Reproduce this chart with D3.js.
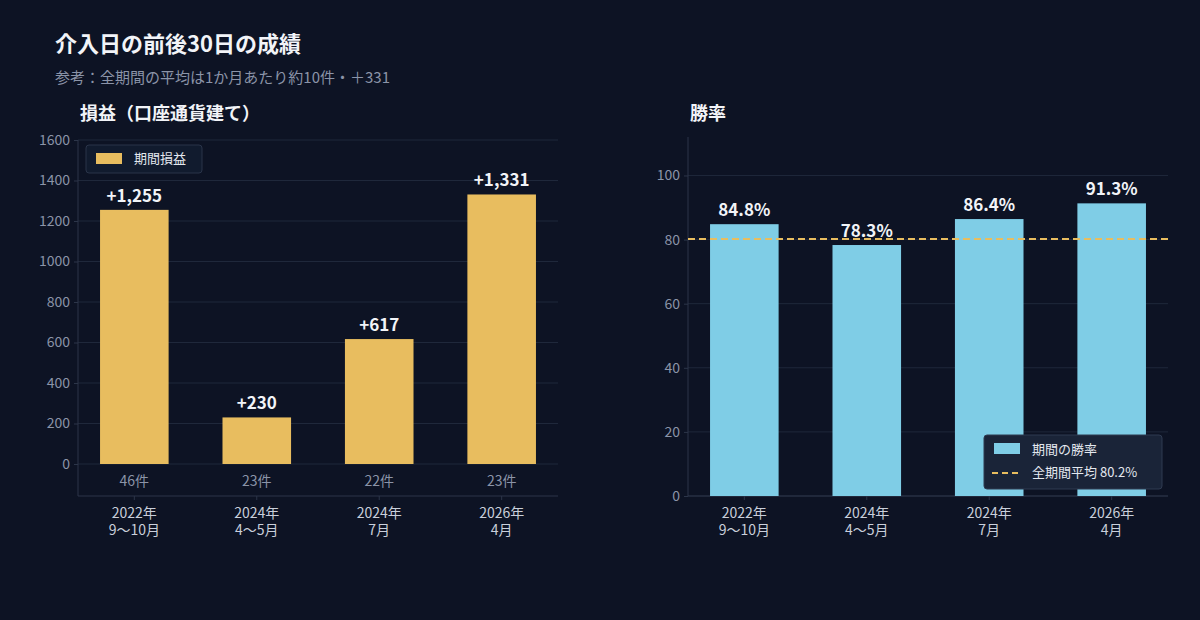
<!DOCTYPE html>
<html><head><meta charset="utf-8">
<script src="https://cdn.jsdelivr.net/npm/d3@7"></script>
<style>
body{margin:0;background:#0d1324;font-family:"Noto Sans CJK JP","Noto Sans",sans-serif;}
</style></head>
<body><svg id="c" width="1200" height="620"></svg>
<script>
const categories = [['2022年','9〜10月'],['2024年','4〜5月'],['2024年','7月'],['2026年','4月']];
const pnl = [1255, 230, 617, 1331];
const pnlLabels = ['+1,255','+230','+617','+1,331'];
const counts = ['46件','23件','22件','23件'];
const winRate = [84.8, 78.3, 86.4, 91.3];
const avgWin = 80.2;
const pnlTicks = [0,200,400,600,800,1000,1200,1400,1600];
const winTicks = [0,20,40,60,80,100];

const BG = '#0d1324', GRID = '#1f283b', AXIS = '#2c3549', TICK = '#8b94a8', GOLD = '#e8bd5f', BLUE = '#7fcde6';
const svg = d3.select('#c');
svg.append('rect').attr('width',1200).attr('height',620).attr('fill',BG);

svg.append('text').attr('x',55).attr('y',52).attr('fill','#f2f4f8').attr('font-size',22).attr('font-weight',700).text('介入日の前後30日の成績');
svg.append('text').attr('x',55).attr('y',83).attr('fill',TICK).attr('font-size',15).text('参考：全期間の平均は1か月あたり約10件・＋331');

function panel(x0, x1, y0, y1, domain, ticks, title) {
  const g = svg.append('g');
  const x = d3.scaleBand().domain(d3.range(4)).range([x0, x1]).paddingInner(0.44).paddingOuter(0.18);
  const y = d3.scaleLinear().domain(domain).range([y1, y0]);
  g.append('text').attr('x', x0 + 2).attr('y', 120).attr('fill','#f2f4f8').attr('font-size',18).attr('font-weight',700).text(title);
  g.selectAll('.grid').data(ticks).join('line')
    .attr('x1',x0).attr('x2',x1).attr('y1',d=>y(d)).attr('y2',d=>y(d)).attr('stroke',GRID);
  g.append('line').attr('x1',x0).attr('x2',x0).attr('y1',y0).attr('y2',y1).attr('stroke',AXIS);
  g.append('line').attr('x1',x0).attr('x2',x1).attr('y1',y1).attr('y2',y1).attr('stroke',AXIS);
  const ya = g.append('g').attr('transform',`translate(${x0},0)`)
    .call(d3.axisLeft(y).tickValues(ticks).tickFormat(d3.format('d')).tickSize(4).tickPadding(4));
  ya.select('.domain').remove();
  ya.selectAll('line').attr('stroke',AXIS);
  ya.selectAll('text').attr('fill',TICK).attr('font-size',14).attr('font-family','"Noto Sans CJK JP",sans-serif');
  const xa = g.append('g').attr('transform',`translate(0,${y1})`).call(d3.axisBottom(x).tickSize(4).tickFormat(''));
  xa.select('.domain').remove();
  xa.selectAll('line').attr('stroke',AXIS);
  categories.forEach((c,i)=>{
    const cx = x(i)+x.bandwidth()/2;
    g.append('text').attr('x',cx).attr('y',y1+22).attr('text-anchor','middle').attr('fill','#c9cfdb').attr('font-size',14).text(c[0]);
    g.append('text').attr('x',cx).attr('y',y1+39).attr('text-anchor','middle').attr('fill','#c9cfdb').attr('font-size',14).text(c[1]);
  });
  return {g,x,y};
}

// left panel
const L = panel(78, 558, 140, 496, [-158, 1600], pnlTicks, '損益（口座通貨建て）');
L.g.selectAll('.bar').data(pnl).join('rect')
  .attr('x',(d,i)=>L.x(i)).attr('width',L.x.bandwidth())
  .attr('y',d=>L.y(d)).attr('height',d=>L.y(0)-L.y(d)).attr('fill',GOLD);
L.g.selectAll('.lab').data(pnl).join('text')
  .attr('x',(d,i)=>L.x(i)+L.x.bandwidth()/2).attr('y',d=>L.y(d)-8).attr('text-anchor','middle')
  .attr('fill','#f2f4f8').attr('font-size',17).attr('font-weight',700).text((d,i)=>pnlLabels[i]);
L.g.selectAll('.cnt').data(counts).join('text')
  .attr('x',(d,i)=>L.x(i)+L.x.bandwidth()/2).attr('y',L.y(-85)+5).attr('text-anchor','middle')
  .attr('fill',TICK).attr('font-size',14).text(d=>d);
const lg1 = L.g.append('g').attr('transform','translate(86,145)');
lg1.append('rect').attr('width',116).attr('height',28).attr('rx',3).attr('fill','#111b2e').attr('stroke','#2a3449');
lg1.append('rect').attr('x',10).attr('y',8).attr('width',26).attr('height',11).attr('fill',GOLD);
lg1.append('text').attr('x',48).attr('y',18).attr('fill','#e4e8ef').attr('font-size',13).text('期間損益');

// right panel
const R = panel(688, 1168, 137, 496, [0, 112], winTicks, '勝率');
R.g.selectAll('.bar').data(winRate).join('rect')
  .attr('x',(d,i)=>R.x(i)).attr('width',R.x.bandwidth())
  .attr('y',d=>R.y(d)).attr('height',d=>R.y(0)-R.y(d)).attr('fill',BLUE);
R.g.append('line').attr('x1',688).attr('x2',1170).attr('y1',R.y(avgWin)).attr('y2',R.y(avgWin))
  .attr('stroke',GOLD).attr('stroke-width',2).attr('stroke-dasharray','7,4');
R.g.selectAll('.lab').data(winRate).join('text')
  .attr('x',(d,i)=>R.x(i)+R.x.bandwidth()/2).attr('y',d=>R.y(d)-8).attr('text-anchor','middle')
  .attr('fill','#f2f4f8').attr('font-size',17).attr('font-weight',700).text(d=>d.toFixed(1)+'%');
const lg2 = R.g.append('g').attr('transform','translate(984,435)');
lg2.append('rect').attr('width',178).attr('height',54).attr('rx',3).attr('fill','#1a2438').attr('stroke','#2f3a50');
lg2.append('rect').attr('x',10).attr('y',8).attr('width',26).attr('height',11).attr('fill',BLUE);
lg2.append('text').attr('x',48).attr('y',19).attr('fill','#e4e8ef').attr('font-size',13).text('期間の勝率');
lg2.append('line').attr('x1',8).attr('x2',38).attr('y1',38).attr('y2',38).attr('stroke',GOLD).attr('stroke-width',2).attr('stroke-dasharray','6,4');
lg2.append('text').attr('x',48).attr('y',42).attr('fill','#e4e8ef').attr('font-size',13).text('全期間平均 80.2%');
</script></body></html>
